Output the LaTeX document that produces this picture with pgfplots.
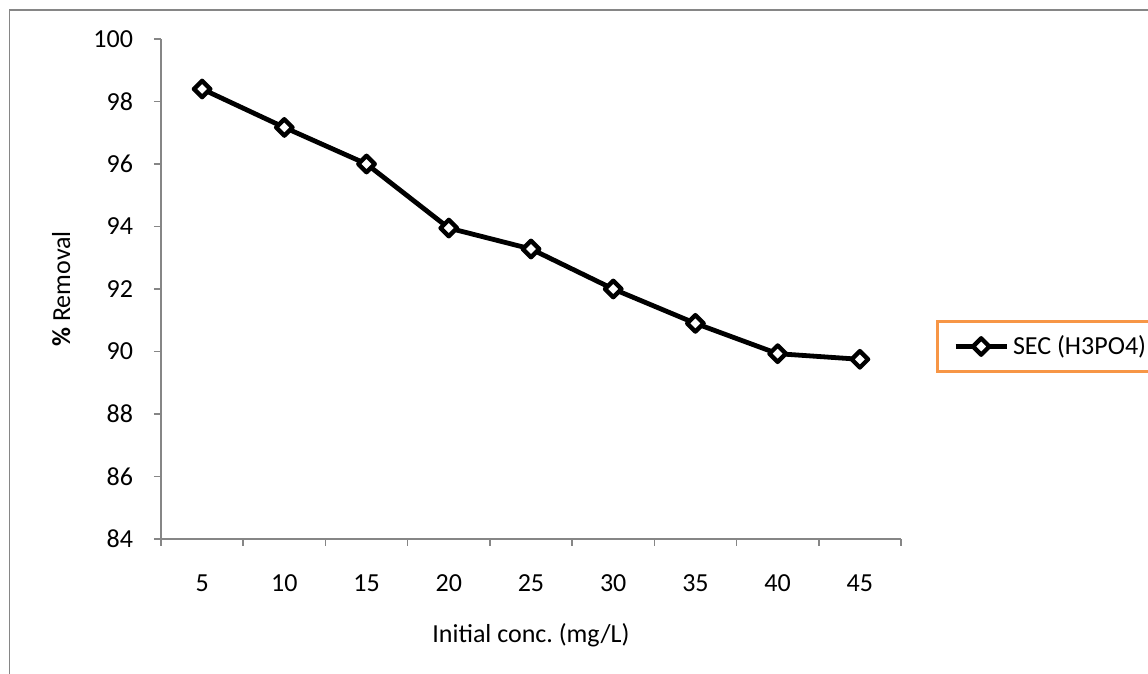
\documentclass[border=0pt]{standalone}
\usepackage{fontspec}
\setmainfont{Carlito}
\usepackage{pgfplots}
\pgfplotsset{compat=1.18}

\definecolor{axisgray}{HTML}{868686}
\definecolor{legorange}{HTML}{F79646}

\begin{document}
\frenchspacing
% origin = lower left corner of the plot area; 1 px of the reference = 0.5pt
\begin{tikzpicture}
  \useasboundingbox (-80.5pt,-67.5pt) rectangle (493.5pt,269.5pt);
  \clip (-80.5pt,-67.5pt) rectangle (493.5pt,269.5pt);
  % outer chart border, only the left and top edges show
  \draw[axisgray, line width=0.75pt]
    (-75.75pt,-67.5pt) -- (-75.75pt,264.5pt) -- (493.5pt,264.5pt);

  \begin{axis}[
    anchor=south west,
    scale only axis,
    width=370pt, height=250pt,
    font=\fontsize{13}{15}\selectfont,
    /pgf/number format/assume math mode=true,
    xmin=0.5, xmax=9.5,
    ymin=84, ymax=100,
    ytick={84,86,...,100},
    xtick={0.5,1.5,...,9.5},
    xticklabels={5,10,15,20,25,30,35,40,45},
    x tick label as interval,
    axis x line*=bottom,
    axis y line*=left,
    axis line style={draw=axisgray, line width=0.75pt, -},
    tick align=outside,
    major tick length=3.5pt,
    tick style={draw=axisgray, line width=0.75pt},
    xticklabel style={yshift=-11pt},
    yticklabel style={xshift=-7pt},
    xlabel={Initial conc.\ (mg/L)},
    ylabel={\textbf{\%} Removal},
    xlabel style={at={(axis description cs:0.5,0)}, anchor=center, yshift=-48pt},
    ylabel style={at={(axis description cs:-0.135,0.5)}, anchor=center},
    legend style={
      at={(1.047,0.438)}, anchor=north west,
      draw=legorange, line width=1.5pt,
      inner xsep=8pt, inner ysep=5pt,
      font=\fontsize{13}{15}\selectfont,
    },
    legend image code/.code={
      \draw[mark repeat=2, mark phase=2, #1]
        plot coordinates {(0pt,0pt) (12.75pt,0pt) (25.5pt,0pt)};
    },
  ]
    \addplot[black, line width=2.4pt, line join=round,
      mark=square*, mark size=2.9pt,
      mark options={rotate=45, fill=white, line width=2.2pt, solid}]
      coordinates {
        (1,98.40) (2,97.17) (3,96.00) (4,93.95) (5,93.28)
        (6,92.00) (7,90.90) (8,89.93) (9,89.75)
      };
    \legend{SEC (H3PO4)}
  \end{axis}
\end{tikzpicture}
\end{document}
